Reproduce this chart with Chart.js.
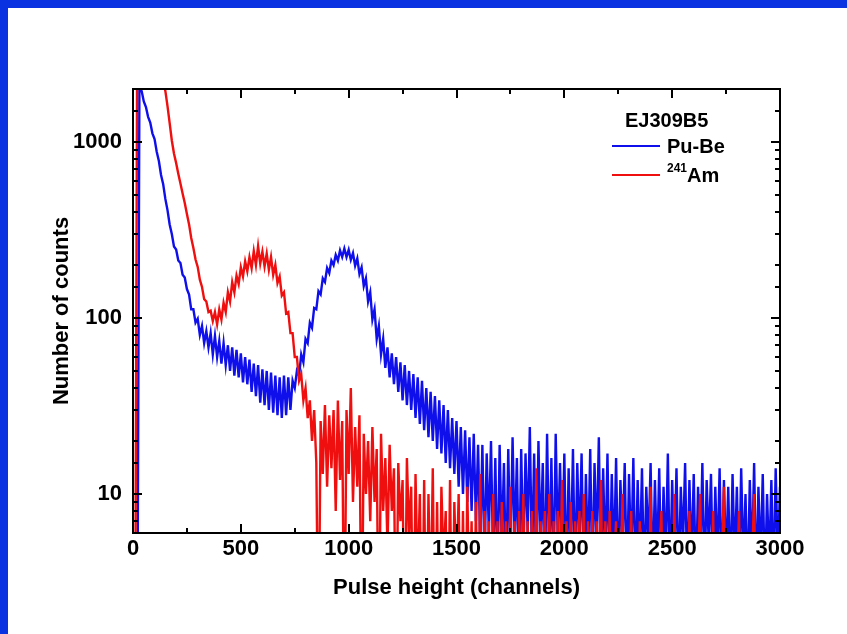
<!DOCTYPE html>
<html><head><meta charset="utf-8">
<script src="https://cdn.jsdelivr.net/npm/chart.js@4.4.0/dist/chart.umd.min.js"></script>
<style>html,body{margin:0;padding:0;background:#fff;overflow:hidden}canvas{display:block}</style>
</head><body>
<canvas id="c" width="847" height="634" style="width:847px;height:634px"></canvas>
<script>
// ---- data (counts below the axis floor are given as small values) ----
const channels = [];
for (let c = 0; c <= 3000; c += 10) channels.push(c);

const puBe = [
  1, 1, 1, 2600, 1950, 1700, 1580, 1390, 1290, 1120,
  1040, 880, 780, 650, 575, 475, 410, 340, 300, 255,
  245, 212, 205, 176, 170, 146, 136, 112, 112, 94,
  99, 80, 90, 72, 84, 68, 82, 62, 79, 60,
  74, 55, 72, 54, 70, 50, 68, 47, 66, 46,
  63, 43, 60, 42, 58, 38, 55, 36, 54, 33,
  51, 32, 50, 30, 49, 29, 47, 28, 46, 27,
  47, 28, 46, 30, 44, 40, 50, 47, 62, 56,
  76, 72, 94, 88, 114, 112, 142, 136, 168, 160,
  192, 180, 212, 200, 228, 212, 242, 222, 248, 222,
  244, 214, 234, 198, 218, 178, 194, 152, 168, 124,
  140, 98, 112, 76, 90, 62, 76, 52, 68, 46,
  63, 42, 60, 38, 56, 34, 54, 32, 50, 30,
  48, 27, 46, 25, 44, 23, 40, 21, 38, 20,
  36, 18, 34, 17, 32, 15, 30, 14, 27, 13,
  26, 11, 24, 10, 23, 9, 21, 8, 22, 7,
  19, 5, 19, 4, 17, 6, 20, 4, 16, 3,
  19, 5, 15, 3, 18, 4, 21, 5, 16, 3,
  18, 4, 17, 6, 24, 4, 17, 3, 20, 5,
  15, 3, 22, 4, 16, 3, 22, 5, 15, 4,
  17, 3, 14, 4, 18, 3, 15, 5, 17, 3,
  13, 4, 18, 3, 15, 5, 21, 3, 14, 4,
  17, 3, 13, 4, 16, 3, 12, 5, 15, 3,
  13, 4, 16, 3, 12, 4, 14, 3, 11, 5,
  15, 3, 12, 4, 14, 3, 11, 4, 17, 3,
  12, 4, 14, 3, 11, 5, 15, 3, 12, 4,
  13, 3, 11, 4, 15, 3, 12, 5, 13, 3,
  11, 4, 14, 3, 12, 4, 11, 3, 13, 4,
  11, 3, 14, 4, 10, 3, 12, 4, 15, 3,
  11, 4, 13, 3, 10, 4, 12, 3, 14, 4,
  11
];

const am241 = [
  1, 1, 6000, 5800, 5500, 5200, 4900, 4600, 4300, 4000,
  3700, 3400, 3000, 2650, 2250, 1950, 1600, 1280, 1020, 860,
  760, 660, 580, 510, 450, 390, 340, 285, 250, 215,
  195, 165, 150, 128, 124, 108, 110, 96, 108, 92,
  112, 98, 122, 108, 140, 124, 160, 140, 174, 156,
  194, 172, 210, 184, 222, 192, 240, 200, 256, 204,
  238, 196, 232, 188, 222, 176, 200, 158, 172, 134,
  140, 106, 108, 82, 82, 60, 60, 44, 48, 34,
  40, 27, 34, 20, 30, 15, 1, 26, 13, 32,
  11, 28, 14, 30, 8, 34, 12, 26, 1, 30,
  13, 40, 9, 24, 11, 28, 1, 22, 10, 20,
  7, 24, 9, 18, 1, 22, 8, 16, 5, 19,
  8, 14, 1, 15, 7, 12, 1, 16, 6, 11,
  1, 13, 3, 10, 1, 12, 1, 10, 2, 14,
  1, 9, 1, 11, 4, 8, 1, 12, 1, 9,
  3, 10, 1, 8, 1, 11, 2, 7, 1, 9,
  1, 13, 1, 8, 3, 7, 1, 10, 1, 7,
  1, 9, 4, 7, 1, 11, 1, 7, 1, 8,
  3, 10, 1, 7, 1, 8, 1, 14, 1, 7,
  4, 8, 1, 10, 1, 7, 1, 8, 3, 12,
  1, 7, 1, 9, 1, 7, 4, 8, 1, 10,
  1, 7, 1, 8, 1, 7, 3, 12, 1, 7,
  1, 8, 1, 4, 7, 1, 3, 10, 1, 4,
  2, 8, 1, 3, 1, 7, 1, 4, 3, 1,
  11, 1, 3, 1, 4, 8, 1, 3, 1, 4,
  1, 10, 1, 3, 1, 4, 2, 1, 8, 1,
  3, 1, 4, 10, 1, 3, 1, 4, 1, 8,
  1, 3, 1, 4, 11, 1, 3, 1, 4, 1,
  3, 8, 1, 4, 1, 3, 1, 4, 10, 1,
  3, 1, 4, 1, 3, 1, 4, 1, 3, 1,
  4
];

const xTickLabels = [0, 500, 1000, 1500, 2000, 2500, 3000];
const yTickLabels = [10, 100, 1000];
const legendTitle = 'EJ309B5';
const seriesNames = ['Pu-Be', 'Am'];
const amMass = '241';

// ---- styles ----
const FONT = '"Liberation Sans", Arial, Helvetica, sans-serif';
const BLUE = 'rgb(15,15,235)';
const RED = 'rgb(240,15,15)';
const FRAME_BLUE = '#0a32e0';
const LINE_W = 2.4;

Chart.defaults.font.family = FONT;
Chart.defaults.color = '#000';

const toXY = (vals) => channels.map((c, i) => ({ x: c, y: vals[i] }));

const backgroundPlugin = {
  id: 'bg',
  beforeDraw(chart) {
    const ctx = chart.ctx;
    ctx.save();
    ctx.fillStyle = '#fff';
    ctx.fillRect(0, 0, chart.width, chart.height);
    ctx.fillStyle = FRAME_BLUE;
    ctx.fillRect(0, 0, chart.width, 8);
    ctx.fillRect(0, 0, 8, chart.height);
    ctx.restore();
  }
};

const framePlugin = {
  id: 'frame',
  afterDatasetsDraw(chart) {
    const ctx = chart.ctx;
    const { left, right, top, bottom } = chart.chartArea;
    const xs = chart.scales.x, ys = chart.scales.y;
    ctx.save();
    ctx.strokeStyle = '#000';
    ctx.lineWidth = 2;
    ctx.beginPath();
    const seg = (x1, y1, x2, y2) => { ctx.moveTo(x1, y1); ctx.lineTo(x2, y2); };
    xs.ticks.forEach(t => {
      const px = Math.round(xs.getPixelForValue(t.value));
      const len = (t.value % 500 === 0) ? 9 : 5;
      seg(px, bottom, px, bottom - len);
      seg(px, top, px, top + len);
    });
    ys.ticks.forEach(t => {
      const py = Math.round(ys.getPixelForValue(t.value));
      const lg = Math.log10(t.value);
      const len = Math.abs(lg - Math.round(lg)) < 1e-9 ? 9 : 5;
      seg(left, py, left + len, py);
      seg(right, py, right - len, py);
    });
    ctx.stroke();
    ctx.strokeRect(left, top, right - left, bottom - top);
    ctx.restore();
  }
};

const legendPlugin = {
  id: 'customLegend',
  afterDraw(chart) {
    const ctx = chart.ctx;
    ctx.save();
    ctx.fillStyle = '#000';
    ctx.textBaseline = 'middle';
    ctx.textAlign = 'left';
    ctx.font = 'bold 20px ' + FONT;
    ctx.fillText(legendTitle, 625, 121);
    ctx.lineWidth = 2;
    ctx.strokeStyle = BLUE;
    ctx.beginPath(); ctx.moveTo(612, 146); ctx.lineTo(660, 146); ctx.stroke();
    ctx.fillText(seriesNames[0], 667, 147);
    ctx.strokeStyle = RED;
    ctx.beginPath(); ctx.moveTo(612, 175); ctx.lineTo(660, 175); ctx.stroke();
    ctx.font = 'bold 12px ' + FONT;
    ctx.fillText(amMass, 667, 169);
    ctx.font = 'bold 20px ' + FONT;
    ctx.fillText(seriesNames[1], 687, 176);
    ctx.restore();
  }
};

new Chart(document.getElementById('c'), {
  type: 'line',
  data: {
    datasets: [
      { label: '241Am', data: toXY(am241), borderColor: RED, borderWidth: LINE_W, pointRadius: 0, tension: 0, fill: false },
      { label: 'Pu-Be', data: toXY(puBe), borderColor: BLUE, borderWidth: LINE_W, pointRadius: 0, tension: 0, fill: false }
    ]
  },
  options: {
    responsive: false,
    animation: false,
    devicePixelRatio: 1,
    layout: { padding: { top: 89, right: 67, left: 0, bottom: 0 } },
    plugins: { legend: { display: false }, tooltip: { enabled: false } },
    scales: {
      x: {
        type: 'linear', min: 0, max: 3000,
        ticks: {
          stepSize: 250, autoSkip: false, maxRotation: 0, minRotation: 0, padding: 3,
          color: '#000', font: { size: 22, weight: 'bold' },
          callback: v => xTickLabels.includes(v) ? String(v) : ''
        },
        grid: { display: false, drawTicks: false },
        border: { display: false },
        title: { display: true, text: 'Pulse height (channels)', color: '#000', font: { size: 22, weight: 'bold' }, padding: { top: 0, bottom: 33 } },
        afterFit: s => { s.height = 101; }
      },
      y: {
        type: 'logarithmic', min: 6, max: 2000,
        ticks: {
          autoSkip: false, padding: 11, color: '#000', font: { size: 22, weight: 'bold' },
          callback: v => yTickLabels.includes(v) ? String(v) : ''
        },
        grid: { display: false, drawTicks: false },
        border: { display: false },
        title: { display: true, text: 'Number of counts', color: '#000', font: { size: 22, weight: 'bold' }, padding: { top: 49, bottom: 0 } },
        afterFit: s => { s.width = 133; }
      }
    }
  },
  plugins: [backgroundPlugin, framePlugin, legendPlugin]
});
</script></body></html>
